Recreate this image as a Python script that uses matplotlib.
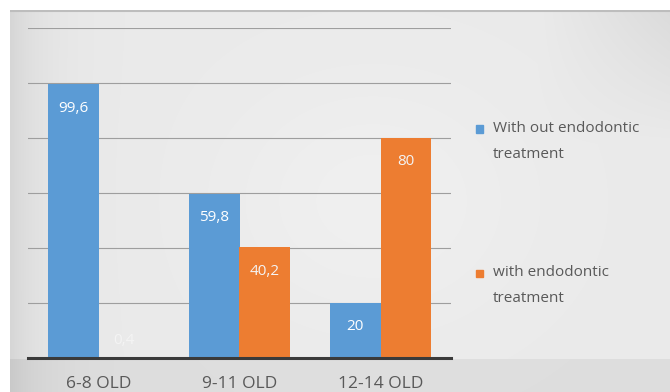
import numpy as np
import matplotlib.pyplot as plt
from matplotlib.patches import Rectangle

grupos = ["6-8 OLD", "9-11 OLD", "12-14 OLD"]
sem_endo = [99.6, 59.8, 20]
com_endo = [0.4, 40.2, 80]
rotulos_sem = ["99,6", "59,8", "20"]
rotulos_com = ["0,4", "40,2", "80"]
legenda = [["With out endodontic", "treatment"], ["with endodontic", "treatment"]]

azul = "#5b9bd5"
laranja = "#ed7d31"
cinza_txt = "#595959"

plt.rcParams["font.family"] = ["Open Sans", "DejaVu Sans"]

fig = plt.figure(figsize=(6.7, 3.92), dpi=100)
fig.patch.set_facecolor("white")

# fundo em degrade cinza (estilo slide)
fundo = fig.add_axes([10 / 670, 0, 660 / 670, 382 / 392])
w, h = 660, 382
xx = np.linspace(0, 1, w)
yy = np.linspace(0, 1, h)
X, Y = np.meshgrid(xx, yy)
g = 0.92 - 0.08 * np.exp(-X / 0.05) - 0.06 * np.clip((X - 0.80) / 0.2, 0, 1) * np.clip(1 - Y / 0.35, 0, 1)
g = g + 0.02 * np.exp(-((X - 0.55) ** 2) / 0.05 - ((Y - 0.5) ** 2) / 0.1)
g[Y > 349 / 382] -= 0.05
g = np.clip(g, 0, 1)
fundo.imshow(np.dstack([g, g, g]), aspect="auto", extent=[0, 1, 1, 0])
fundo.plot([0, 1], [0.003, 0.003], color="#bdbdbd", lw=1.5)
fundo.set_xlim(0, 1)
fundo.set_ylim(1, 0)
fundo.axis("off")

ax = fig.add_axes([28 / 670, 34 / 392, 423 / 670, 330 / 392])
ax.patch.set_alpha(0)

x = np.arange(len(grupos))
larg = 0.36
b1 = ax.bar(x - larg / 2, sem_endo, larg, color=azul, zorder=3)
b2 = ax.bar(x + larg / 2, com_endo, larg, color=laranja, zorder=3)

for i in range(len(grupos)):
    ax.text(x[i] - larg / 2, max(sem_endo[i] - 8.7, 6.5), rotulos_sem[i], ha="center", va="center",
            color="white", fontsize=11, zorder=4)
    ax.text(x[i] + larg / 2, max(com_endo[i] - 8.7, 6.5), rotulos_com[i], ha="center", va="center",
            color="#f4f4f4", fontsize=11, zorder=4)

ax.set_xlim(-0.5, 2.5)
ax.set_ylim(0, 120)
ax.set_yticks(np.arange(0, 121, 20))
ax.yaxis.grid(True, color="#9e9e9e", lw=0.8, zorder=0)
ax.tick_params(axis="y", left=False, labelleft=False)
ax.tick_params(axis="x", length=0, pad=13, labelsize=12.5, labelcolor=cinza_txt)
ax.set_xticks(x)
ax.set_xticklabels(grupos)
for lado in ["top", "right", "left"]:
    ax.spines[lado].set_visible(False)
ax.spines["bottom"].set_color("#3a3a3a")
ax.spines["bottom"].set_linewidth(2.2)
ax.spines["bottom"].set_zorder(5)

# legenda desenhada a mao (linhas bem espacadas como no original)
topo_leg = [129, 273]
for cor, linhas, y0 in zip([azul, laranja], legenda, topo_leg):
    fig.patches.append(Rectangle((476 / 670, 1 - (y0 + 3.5) / 392), 7 / 670, 7 / 392,
                                 transform=fig.transFigure, color=cor))
    for k, linha in enumerate(linhas):
        fig.text(493 / 670, 1 - (y0 + 26 * k) / 392, linha, ha="left", va="center",
                 fontsize=11, color=cinza_txt)

plt.savefig("out.png", dpi=100)
